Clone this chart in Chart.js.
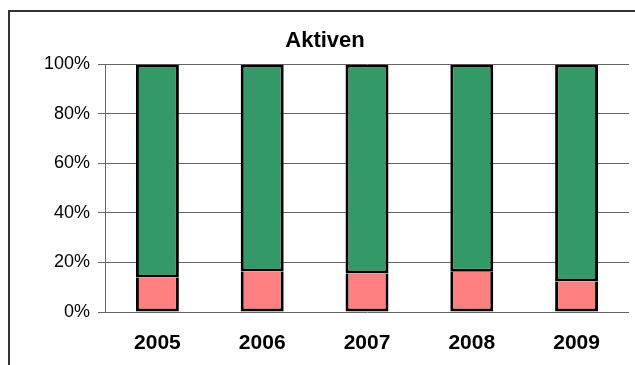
<!DOCTYPE html>
<html>
<head>
<meta charset="utf-8">
<script src="https://cdn.jsdelivr.net/npm/chart.js@4/dist/chart.umd.min.js"></script>
<style>
  html, body { margin: 0; padding: 0; background: #fff; overflow: hidden; }
  #frame {
    position: absolute; left: 8px; top: 10px; width: 700px; height: 400px;
    border-left: 2px solid #333; border-top: 2px solid #333;
  }
  #chart { position: absolute; left: 0; top: 0; }
</style>
</head>
<body>
<div id="frame"></div>
<canvas id="chart" width="650" height="365"></canvas>
<script>
const years = ["2005", "2006", "2007", "2008", "2009"];
// share of the lower (red) and upper (green) part, in percent
const lowerShare = [13.9, 16.4, 15.5, 16.3, 12.3];
const upperShare = [86.1, 83.6, 84.5, 83.7, 87.7];
const yTicks = [0, 20, 40, 60, 80, 100];

const ctx = document.getElementById("chart").getContext("2d");
new Chart(ctx, {
  type: "bar",
  data: {
    labels: years,
    datasets: [
      {
        data: lowerShare,
        backgroundColor: "#FF8080",
        borderColor: "#000",
        borderWidth: 3,
        borderSkipped: "top",
        inflateAmount: 0,
        barPercentage: 0.41,
        categoryPercentage: 1,
      },
      {
        data: upperShare,
        backgroundColor: "#339966",
        borderColor: "#000",
        borderWidth: 3,
        borderSkipped: false,
        inflateAmount: 0,
        barPercentage: 0.41,
        categoryPercentage: 1,
      },
    ],
  },
  options: {
    responsive: false,
    animation: false,
    devicePixelRatio: 1,
    layout: { padding: { left: 21, right: 21, top: 0, bottom: 0 } },
    plugins: {
      legend: { display: false },
      tooltip: { enabled: false },
      title: {
        display: true,
        text: "Aktiven",
        color: "#000",
        font: { family: "Liberation Sans, Arial, sans-serif", size: 22, weight: "bold" },
        padding: { top: 28, bottom: 10 },
      },
    },
    scales: {
      x: {
        stacked: true,
        afterFit: (scale) => { scale.height = 53; },
        grid: { display: false, drawTicks: false },
        border: { display: false },
        ticks: {
          color: "#000",
          padding: 19,
          font: { family: "Liberation Sans, Arial, sans-serif", size: 21, weight: "bold" },
        },
      },
      y: {
        stacked: true,
        min: 0,
        max: 100,
        afterFit: (scale) => { scale.width = 84; },
        afterBuildTicks: (scale) => { scale.ticks = yTicks.map((v) => ({ value: v })); },
        grid: { color: "#666", lineWidth: 1, tickLength: 7 },
        border: { color: "#666", width: 1 },
        ticks: {
          color: "#000",
          padding: 8,
          font: { family: "Liberation Sans, Arial, sans-serif", size: 18 },
          callback: (v) => v + "%",
        },
      },
    },
  },
});
</script>
</body>
</html>
